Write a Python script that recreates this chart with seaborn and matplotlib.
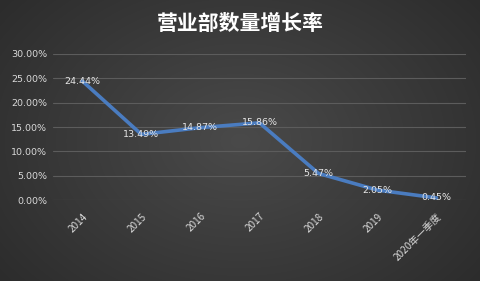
import numpy as np
import pandas as pd
import matplotlib
matplotlib.use("Agg")
import matplotlib.pyplot as plt
import seaborn as sns

categories = ["2014", "2015", "2016", "2017", "2018", "2019", "2020年一季度"]
growth = [24.44, 13.49, 14.87, 15.86, 5.47, 2.05, 0.45]
yticks = [0, 5, 10, 15, 20, 25, 30]
title = "营业部数量增长率"

sns.set_theme(style="dark")
plt.rcParams['font.family'] = ['Noto Sans CJK SC', 'DejaVu Sans']

df = pd.DataFrame({"cat": categories, "pos": range(len(categories)), "val": growth})

fig = plt.figure(figsize=(4.8, 2.81), dpi=100)

# background radial gradient
bg = fig.add_axes([0, 0, 1, 1], zorder=-10)
h, w = 281, 480
yy, xx = np.mgrid[0:h, 0:w]
r = np.sqrt(((xx - w * 0.5) / (w * 0.6)) ** 2 + ((yy - h * 0.5) / (h * 0.75)) ** 2)
v = np.clip(0.29 - 0.11 * r, 0, 1)
img = np.dstack([v, v, v])
bg.imshow(img, aspect="auto", extent=[0, 1, 0, 1])
bg.axis("off")

ax = fig.add_axes([0.110, 0.288, 0.861, 0.520])
ax.patch.set_alpha(0)
sns.lineplot(data=df, x="pos", y="val", ax=ax, color="#4a7cc0", linewidth=2.6,
             solid_capstyle="round", solid_joinstyle="round")

for x, yv in zip(df["pos"], df["val"]):
    ax.text(x, yv, f"{yv:.2f}%", ha="center", va="center", color="#e6e6e6",
            fontsize=6.8, family=['DejaVu Sans'])

ax.set_xlim(-0.5, len(categories) - 0.5)
ax.set_ylim(0, 30)
ax.set_yticks(yticks)
ax.set_yticklabels([f"{t:.2f}%" for t in yticks], color="#d9d9d9", fontsize=6.8,
                   family=['DejaVu Sans'])
ax.set_xticks(range(len(categories)))
ax.set_xticklabels(categories, rotation=45, ha="right", rotation_mode="anchor",
                   color="#d9d9d9", fontsize=7.2)
ax.tick_params(axis="both", length=0, pad=4)
ax.tick_params(axis="x", pad=8)
ax.grid(axis="y", color="#5c5c5c", linewidth=0.8)
ax.grid(axis="x", visible=False)
ax.set_xlabel("")
ax.set_ylabel("")
for s in ax.spines.values():
    s.set_visible(False)

fig.text(0.5, 0.918, title, ha="center", va="center", color="white", fontsize=15,
         fontweight="bold")

fig.savefig("out.png", dpi=100)
